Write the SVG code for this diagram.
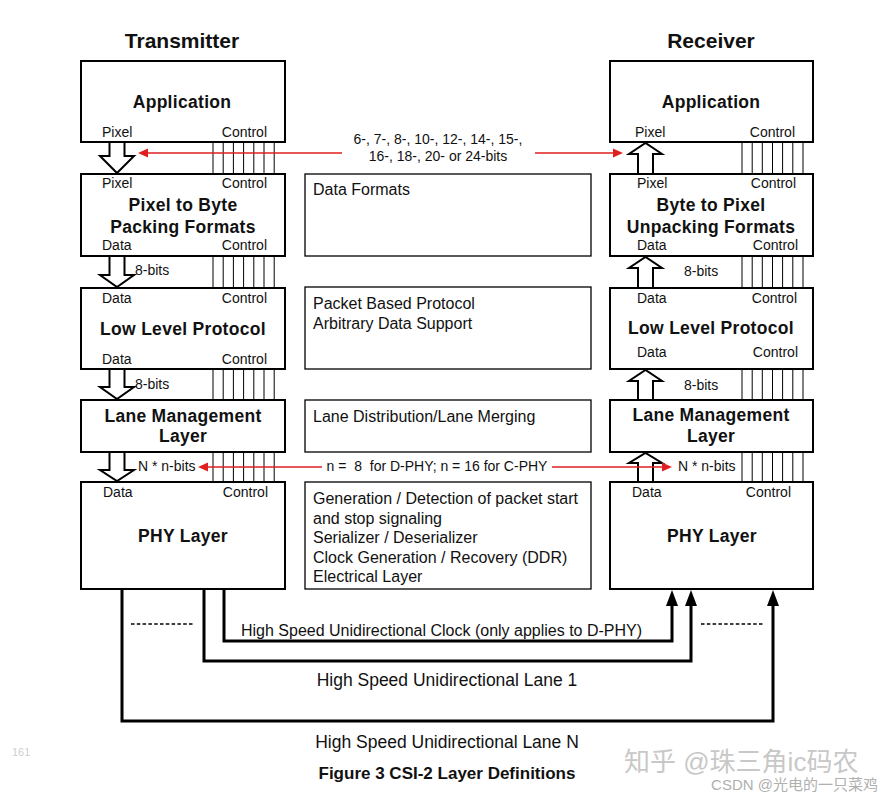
<svg xmlns="http://www.w3.org/2000/svg" width="883" height="798" viewBox="0 0 883 798">
<style>
text{font-family:"Liberation Sans",Arial,sans-serif;fill:#111}
.h{font-size:21px;font-weight:bold;text-anchor:middle}
.t{font-size:17.5px;font-weight:bold;text-anchor:middle;letter-spacing:0.3px}
.l{font-size:14px}
.e{text-anchor:end}
.m{font-size:16px}
.r{font-size:14px;text-anchor:middle}
.b{font-size:17.5px;text-anchor:middle}
.box{fill:#fff;stroke:#000;stroke-width:2}
.mbox{fill:#fff;stroke:#000;stroke-width:1.3}
.ctl{fill:none;stroke:#000;stroke-width:1}
.harr{fill:#fff;stroke:#000;stroke-width:2;stroke-linejoin:miter}
.red{stroke:#e02020;stroke-width:1.5;fill:none}
.redh{fill:#e02020}
.lane{fill:none;stroke:#000;stroke-width:3}
</style>
<rect width="883" height="798" fill="#fff"/>

<text class="h" x="182" y="48">Transmitter</text>
<text class="h" x="711" y="48">Receiver</text>

<g id="tx-app"><rect class="box" x="81" y="61" width="204" height="81"/>
<text class="t" x="182" y="108">Application</text>
<text class="l" x="102" y="137">Pixel</text><text class="l e" x="267" y="137">Control</text></g>

<g id="tx-pack"><rect class="box" x="81" y="174" width="204" height="82"/>
<text class="l" x="102" y="188">Pixel</text><text class="l e" x="267" y="188">Control</text>
<text class="t" x="183" y="211">Pixel to Byte</text>
<text class="t" x="183" y="233">Packing Formats</text>
<text class="l" x="102" y="250">Data</text><text class="l e" x="267" y="250">Control</text></g>

<g id="tx-llp"><rect class="box" x="81" y="288" width="204" height="81"/>
<text class="l" x="102" y="303">Data</text><text class="l e" x="267" y="303">Control</text>
<text class="t" x="183" y="335">Low Level Protocol</text>
<text class="l" x="102" y="364">Data</text><text class="l e" x="267" y="364">Control</text></g>

<g id="tx-lml"><rect class="box" x="81" y="400" width="204" height="52"/>
<text class="t" x="183" y="422">Lane Management</text>
<text class="t" x="183" y="442">Layer</text></g>

<g id="tx-phy"><rect class="box" x="81" y="482" width="204" height="107"/>
<text class="l" x="103" y="497">Data</text><text class="l e" x="268" y="497">Control</text>
<text class="t" x="183" y="542">PHY Layer</text></g>

<g id="mid-df"><rect class="mbox" x="305" y="174" width="286" height="82"/>
<text class="m" x="313" y="195">Data Formats</text></g>
<g id="mid-llp"><rect class="mbox" x="305" y="287" width="286" height="82"/>
<text class="m" x="313" y="309">Packet Based Protocol</text>
<text class="m" x="313" y="329">Arbitrary Data Support</text></g>
<g id="mid-lml"><rect class="mbox" x="305" y="400" width="286" height="52"/>
<text class="m" x="313" y="422">Lane Distribution/Lane Merging</text></g>
<g id="mid-phy"><rect class="mbox" x="305" y="482" width="286" height="107"/>
<text class="m" x="313" y="504">Generation / Detection of packet start</text>
<text class="m" x="313" y="523.5">and stop signaling</text>
<text class="m" x="313" y="543">Serializer / Deserializer</text>
<text class="m" x="313" y="562.5">Clock Generation / Recovery (DDR)</text>
<text class="m" x="313" y="582">Electrical Layer</text></g>

<g id="rx-app"><rect class="box" x="610" y="61" width="203" height="81"/>
<text class="t" x="711" y="108">Application</text>
<text class="l" x="635" y="137">Pixel</text><text class="l e" x="795" y="137">Control</text></g>

<g id="rx-pack"><rect class="box" x="610" y="174" width="203" height="82"/>
<text class="l" x="637" y="188">Pixel</text><text class="l e" x="796" y="188">Control</text>
<text class="t" x="711" y="211">Byte to Pixel</text>
<text class="t" x="711" y="233">Unpacking Formats</text>
<text class="l" x="637" y="250">Data</text><text class="l e" x="798" y="250">Control</text></g>

<g id="rx-llp"><rect class="box" x="610" y="288" width="203" height="81"/>
<text class="l" x="637" y="303">Data</text><text class="l e" x="797" y="303">Control</text>
<text class="t" x="711" y="334">Low Level Protocol</text>
<text class="l" x="637" y="357">Data</text><text class="l e" x="798" y="357">Control</text></g>

<g id="rx-lml"><rect class="box" x="610" y="400" width="203" height="52"/>
<text class="t" x="711" y="421">Lane Management</text>
<text class="t" x="711" y="442">Layer</text></g>

<g id="rx-phy"><rect class="box" x="610" y="482" width="203" height="107"/>
<text class="l" x="632" y="497">Data</text><text class="l e" x="791" y="497">Control</text>
<text class="t" x="712" y="542">PHY Layer</text></g>

<g id="connectors">
<path class="ctl" d="M213,142V174M223.2,142V174M233.4,142V174M243.6,142V174M253.8,142V174M264,142V174M274.2,142V174
M213,256V288M223.2,256V288M233.4,256V288M243.6,256V288M253.8,256V288M264,256V288M274.2,256V288
M213,369V400M223.2,369V400M233.4,369V400M243.6,369V400M253.8,369V400M264,369V400M274.2,369V400
M213,452V482M223.2,452V482M233.4,452V482M243.6,452V482M253.8,452V482M264,452V482M274.2,452V482"/>
<path class="ctl" d="M742,142V174M752.2,142V174M762.3,142V174M772.5,142V174M782.6,142V174M792.8,142V174M803,142V174
M742,256V288M752.2,256V288M762.3,256V288M772.5,256V288M782.6,256V288M792.8,256V288M803,256V288
M742,369V400M752.2,369V400M762.3,369V400M772.5,369V400M782.6,369V400M792.8,369V400M803,369V400
M742,452V482M752.2,452V482M762.3,452V482M772.5,452V482M782.6,452V482M792.8,452V482M803,452V482"/>

<path class="harr" d="M109.5,142V156H100L117,173L134,156H124.5V142Z"/>
<path class="harr" d="M109.5,256V275H100L117,287L134,275H124.5V256Z"/>
<path class="harr" d="M109.5,369V387H100L117,399L134,387H124.5V369Z"/>
<path class="harr" d="M109.5,452V470H100L117,481L134,470H124.5V452Z"/>

<path class="harr" d="M638,174V154H629L645.5,143L662,154H653V174Z"/>
<path class="harr" d="M638,288V268H629L645.5,257L662,268H653V288Z"/>
<path class="harr" d="M638,400V381H629L645.5,370L662,381H653V400Z"/>
<path class="harr" d="M638,482V463H629L645.5,453L662,463H653V482Z"/>

<path class="red" d="M147,153H342M535,153H614M207,467H322M552,467H663"/>
<polygon class="redh" points="138,153 148,148.5 148,157.5"/>
<polygon class="redh" points="623,153 613,148.5 613,157.5"/>
<polygon class="redh" points="198,467 208,462.5 208,471.5"/>
<polygon class="redh" points="672,467 662,462.5 662,471.5"/>

<path class="lane" d="M122,589V721H773V604"/>
<path class="lane" d="M204,589V661H691V604"/>
<path class="lane" d="M224,589V641H672V604"/>
<polygon points="773,590 767,606 779,606" fill="#000"/>
<polygon points="691,590 685,606 697,606" fill="#000"/>
<polygon points="672,590 666,606 678,606" fill="#000"/>
<path d="M131,624H193M701,624H763" stroke="#000" stroke-width="1.5" stroke-dasharray="3.5,2.3" fill="none"/>
</g>

<text class="l" x="135" y="275">8-bits</text>
<text class="l" x="135" y="389">8-bits</text>
<text class="l" x="138" y="471">N * n-bits</text>
<text class="l" x="684" y="276">8-bits</text>
<text class="l" x="684" y="390">8-bits</text>
<text class="l" x="678" y="471">N * n-bits</text>

<text class="r" x="438" y="144">6-, 7-, 8-, 10-, 12-, 14-, 15-,</text>
<text class="r" x="438" y="161">16-, 18-, 20- or 24-bits</text>
<text class="r" x="437" y="471" style="white-space:pre">n =  8  for D-PHY; n = 16 for C-PHY</text>

<text x="241" y="636" style="font-size:16px">High Speed Unidirectional Clock (only applies to D-PHY)</text>
<text class="b" x="447" y="686">High Speed Unidirectional Lane 1</text>
<text class="b" x="447" y="748">High Speed Unidirectional Lane N</text>
<text x="447" y="779" style="font-size:17px;font-weight:bold;text-anchor:middle">Figure 3 CSI-2 Layer Definitions</text>

<text x="12" y="756" style="font-size:11px;fill:#cfcfcf">161</text>
<text x="624" y="771" style="font-size:26px;fill:#c8c8c8;font-family:'Liberation Sans','Noto Sans CJK SC',sans-serif">知乎 @珠三角ic码农</text>
<text x="878" y="790" style="font-size:15px;fill:#b0b0b0;text-anchor:end;font-family:'Liberation Sans','Noto Sans CJK SC',sans-serif">CSDN @光电的一只菜鸡</text>
</svg>
